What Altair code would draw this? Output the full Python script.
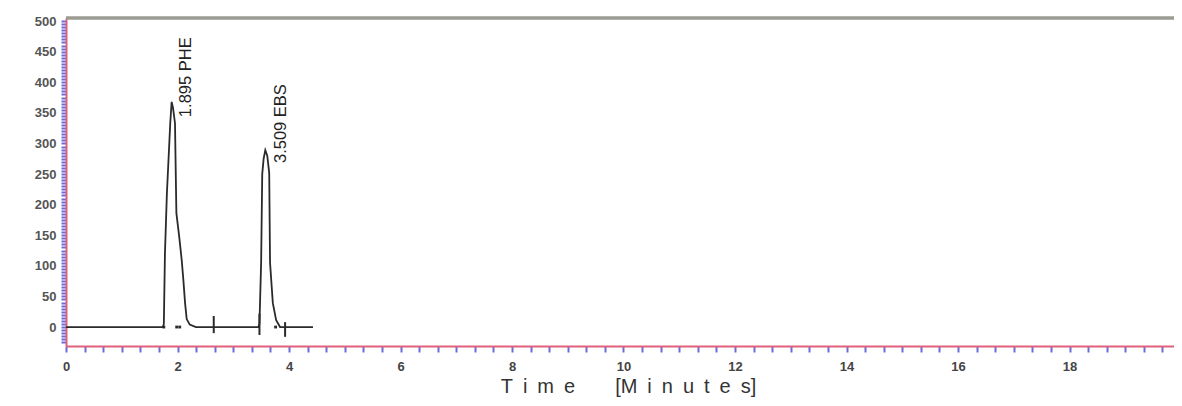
import altair as alt
import pandas as pd

# Chromatogram trace (time in minutes, detector signal)
time = [0, 1.74, 1.755, 1.775, 1.81, 1.87, 1.895, 1.92, 1.955, 1.98, 2.03, 2.075,
        2.105, 2.135, 2.165, 2.22, 2.33, 3.45, 3.47, 3.50, 3.52, 3.545, 3.575,
        3.61, 3.645, 3.66, 3.71, 3.77, 3.84, 4.43]
signal = [0, 0, 5, 121, 219, 333, 368, 358, 333, 186, 148, 110,
          77, 40, 13, 4, 0, 0, 5, 105, 250, 275, 289,
          280, 252, 105, 39, 11, 0, 0]

# Integration event markers
marker_t = [2.65, 3.47, 3.93]
marker_lo = [-10, -13, -16]
marker_hi = [18, 22, 8]

dot_t = [1.755, 1.985, 2.04, 3.76]
dot_v = [0, 0, 0, 0]

# Peak labels
peak_labels = ["1.895 PHE", "3.509 EBS"]
label_t = [2.16, 3.86]
label_v = [343, 268]

x_ticks = [k / 3 for k in range(0, 60)]
y_ticks = list(range(-25, 505, 5))

W, H = 1108, 328
RED = "#e0607a"
BLUE = "#6b6bd6"

trace = pd.DataFrame({"t": time, "v": signal})
markers = pd.DataFrame({"t": marker_t, "lo": marker_lo, "hi": marker_hi})
dots = pd.DataFrame({"t": dot_t, "v": dot_v})
labels = pd.DataFrame({"t": label_t, "v": label_v, "txt": peak_labels})

xscale = alt.Scale(domain=[0, W / 55.75], nice=False, zero=False)
yscale = alt.Scale(domain=[-31, 505], nice=False, zero=False)

title_txt = "T\u2002i\u2002m\u2002e\u2003\u2003[M\u2002i\u2002n\u2002u\u2002t\u2002e\u2002s]"

xaxis = alt.Axis(
    values=x_ticks, tickCount=1000,
    labelExpr="abs(datum.value - round(datum.value/2)*2) < 0.01 ? format(round(datum.value), 'd') : ''",
    domainColor=RED, domainWidth=2,
    tickColor=BLUE, tickWidth=2, tickSize=6,
    labelFont="Liberation Sans", labelFontSize=13, labelFontWeight="bold",
    labelColor="#444", labelPadding=8, labelOverlap=False, labelFlush=False,
    grid=False,
    title=title_txt, titleFont="Liberation Sans", titleFontSize=20,
    titleFontWeight="normal", titleColor="#333",
    titleX=562, titleY=40, titleAlign="center", titleBaseline="middle",
)
yaxis = alt.Axis(
    values=y_ticks, tickCount=1000,
    labelExpr="datum.value >= 0 && datum.value % 50 == 0 ? datum.value : ''",
    domainColor=RED, domainWidth=2,
    tickColor=BLUE, tickWidth=2, tickSize=5,
    labelFont="Liberation Sans", labelFontSize=13, labelFontWeight="bold",
    labelColor="#555", labelPadding=5, labelOverlap=False, labelFlush=False,
    grid=False, title=None,
)

line = alt.Chart(trace).mark_line(color="#2a2a2a", strokeWidth=1.8).encode(
    x=alt.X("t:Q", scale=xscale, axis=xaxis),
    y=alt.Y("v:Q", scale=yscale, axis=yaxis),
    order="t:Q",
)

rules = alt.Chart(markers).mark_rule(color="#2a2a2a", strokeWidth=2).encode(
    x="t:Q", y="lo:Q", y2="hi:Q"
)

pts = alt.Chart(dots).mark_square(color="#2a2a2a", size=8, opacity=1).encode(
    x="t:Q", y="v:Q"
)

txt = alt.Chart(labels).mark_text(
    angle=270, align="left", baseline="middle", font="Liberation Sans",
    fontSize=16.5, color="#222"
).encode(x="t:Q", y="v:Q", text="txt:N")

top = alt.Chart(labels).mark_rule(color="#9c9c94", strokeWidth=3).encode(
    x=alt.value(0), x2=alt.value(W), y=alt.value(0)
)

chart = alt.layer(line, rules, pts, txt, top).properties(
    width=W, height=H,
    autosize=alt.AutoSizeParams(type="none"),
    padding={"left": 58, "top": 10, "right": 0, "bottom": 52},
).configure_view(strokeWidth=0).configure(background="white")

chart.save("out.html", embed_options={"renderer": "svg", "actions": False})
